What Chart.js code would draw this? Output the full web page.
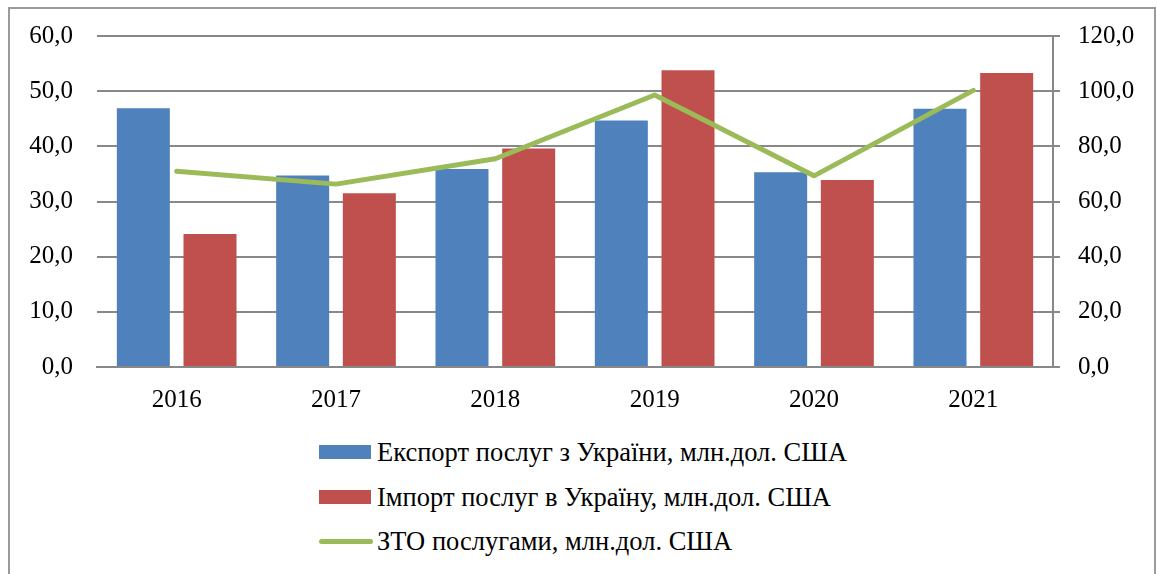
<!DOCTYPE html>
<html>
<head>
<meta charset="utf-8">
<script src="https://cdn.jsdelivr.net/npm/chart.js@4.4.1/dist/chart.umd.min.js"></script>
<style>
 body { margin: 0; background: #ffffff; font-family: "Liberation Serif", "Times New Roman", serif; }
 #frame { position: absolute; left: 8px; top: 7px; width: 1144px; height: 580px; border: 2px solid #9a9a9a; }
 #wrap { position: absolute; left: 0; top: -3px; width: 1157px; height: 423px; }
 .leg { position: absolute; left: 319px; height: 44px; display: flex; align-items: center; font-size: 26.5px; color: #000; white-space: nowrap; }
 .sw { width: 52px; height: 14px; margin-right: 6px; }
 .ln { width: 54px; height: 5px; border-radius: 3px; margin-right: 4px; }
</style>
</head>
<body>
<div id="frame"></div>
<div id="wrap"><canvas id="myChart"></canvas></div>
<div id="legend"></div>
<script>
// chart data
let years = ["2016", "2017", "2018", "2019", "2020", "2021"];
let exportData = [46.9, 34.7, 35.9, 44.7, 35.3, 46.8];
let importData = [24.1, 31.5, 39.6, 53.8, 33.9, 53.3];
let ztoData = [71.0, 66.3, 75.5, 98.6, 69.3, 100.3];
let names = ["Експорт послуг з України, млн.дол. США", "Імпорт послуг в Україну, млн.дол. США", "ЗТО послугами, млн.дол. США"];
let colors = ["#4F81BD", "#C0504D", "#9BBB59"];

// numbers are written with a comma, like in the original
function fmt(v) {
 return v.toFixed(1).replace(".", ",");
}

let font = { family: "'Liberation Serif', 'Times New Roman', serif", size: 25 };

let ctx = document.getElementById("myChart").getContext("2d");
let myChart = new Chart(ctx, {
 type: "bar",
 data: {
  labels: years,
  datasets: [
   { label: names[0], data: exportData, backgroundColor: colors[0], yAxisID: "y", order: 1,
     barPercentage: 0.795, categoryPercentage: 0.837 },
   { label: names[1], data: importData, backgroundColor: colors[1], yAxisID: "y", order: 1,
     barPercentage: 0.795, categoryPercentage: 0.837 },
   { type: "line", label: names[2], data: ztoData, borderColor: colors[2], backgroundColor: colors[2],
     borderWidth: 5, pointRadius: 0, borderCapStyle: "round", borderJoinStyle: "round",
     tension: 0, yAxisID: "y2", order: 0 }
  ]
 },
 options: {
  responsive: true,
  maintainAspectRatio: false,
  animation: false,
  layout: { padding: { top: 14, left: 0, right: 0, bottom: 0 } },
  plugins: { legend: { display: false }, tooltip: { enabled: false } },
  scales: {
   x: {
    grid: { display: false },
    border: { display: true, color: "#888888", width: 2 },
    ticks: { color: "#000", font: font, padding: 10 },
    afterFit: function(s) { s.height = 53; }
   },
   y: {
    position: "left",
    min: 0, max: 60,
    ticks: { stepSize: 10, color: "#000", font: font, padding: 24, callback: function(v) { return fmt(v); } },
    grid: { color: "#888888", lineWidth: 2, drawTicks: false },
    border: { display: false },
    afterFit: function(s) { s.width = 97; }
   },
   y2: {
    position: "right",
    min: 0, max: 120,
    ticks: { stepSize: 20, color: "#000", font: font, padding: 18, callback: function(v) { return fmt(v); } },
    grid: { drawOnChartArea: false, color: "#888888", lineWidth: 2, tickLength: 7 },
    border: { display: true, color: "#888888", width: 2 },
    afterFit: function(s) { s.width = 104; }
   }
  }
 }
});

// legend under the chart, one item per row
let legendDiv = document.getElementById("legend");
let rowTops = [430, 475, 519];
for (let i = 0; i < names.length; i++) {
 let row = document.createElement("div");
 row.className = "leg";
 row.style.top = rowTops[i] + "px";
 let mark = document.createElement("div");
 mark.className = i < 2 ? "sw" : "ln";
 mark.style.backgroundColor = colors[i];
 row.appendChild(mark);
 row.appendChild(document.createTextNode(names[i]));
 legendDiv.appendChild(row);
}
</script>
</body>
</html>
